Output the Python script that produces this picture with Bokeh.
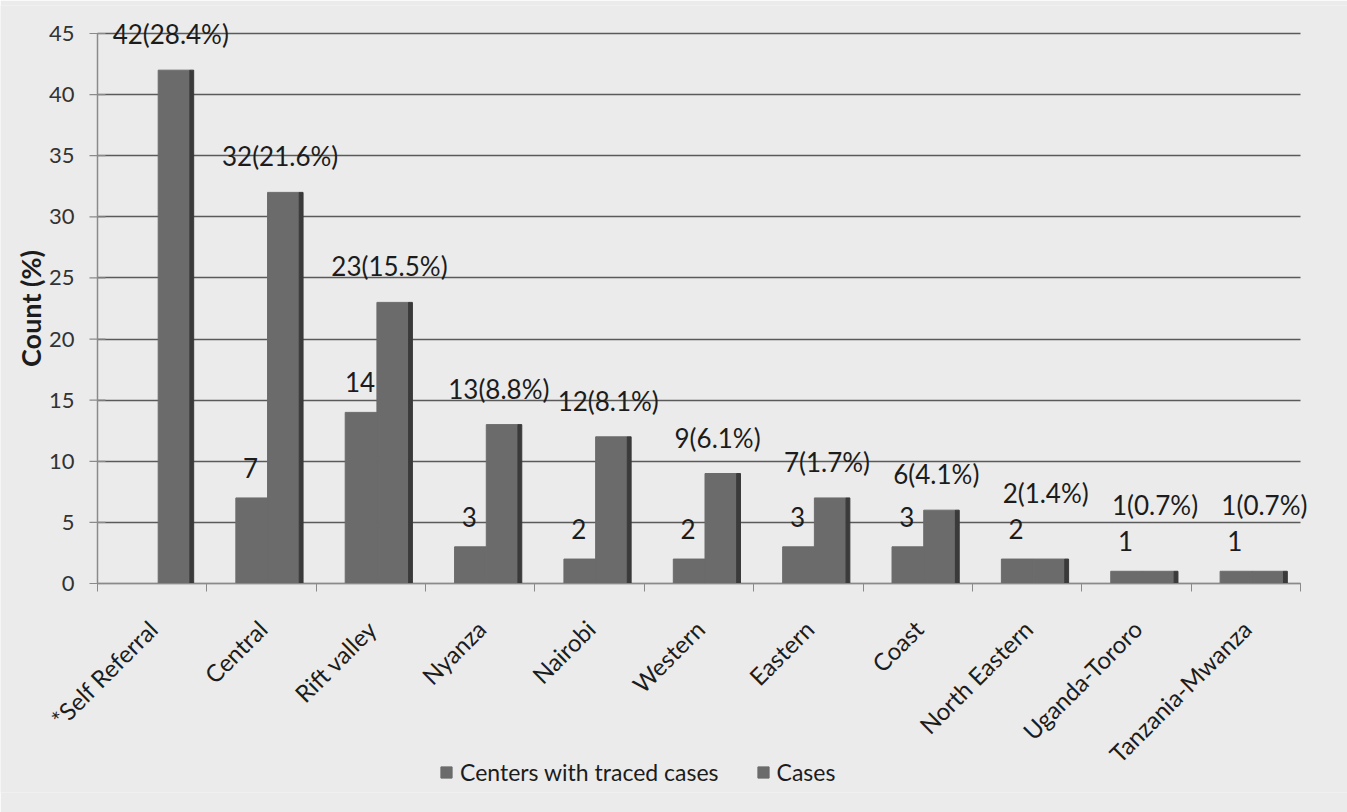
from math import pi
from bokeh.plotting import figure
from bokeh.models import (Range1d, LinearAxis, FixedTicker,
                          Legend, LegendItem, LabelSet, ColumnDataSource, Grid)
from bokeh.transform import dodge
from bokeh.core.properties import value
from bokeh.embed import file_html
from bokeh.resources import INLINE

categories = ["*Self Referral", "Central", "Rift valley", "Nyanza", "Nairobi", "Western",
              "Eastern", "Coast", "North Eastern", "Uganda-Tororo", "Tanzania-Mwanza"]
centers = [0, 7, 14, 3, 2, 2, 3, 3, 2, 1, 1]
cases = [42, 32, 23, 13, 12, 9, 7, 6, 2, 1, 1]
case_pct = ["28.4%", "21.6%", "15.5%", "8.8%", "8.1%", "6.1%", "1.7%", "4.1%", "1.4%", "0.7%", "0.7%"]
series_names = ["Centers with traced cases", "Cases"]
y_title = "Count (%)"
y_ticks = [0, 5, 10, 15, 20, 25, 30, 35, 40, 45]

FONT = "Lato"
BAR = "#6b6b6b"
SIDE = "#3a3a3a"
BG = "#ebebeb"
TXT = "#1c1c1c"
AXIS = "#8a8a8a"

n = len(categories)
xc = [i + 0.5 for i in range(n)]   # category centres, one unit per category

src = ColumnDataSource(dict(xc=xc, cat=categories, centers=centers, cases=cases))
src_x = ColumnDataSource(dict(x=xc, y=[0] * n, t=categories))
src_y = ColumnDataSource(dict(x=[0] * len(y_ticks), y=y_ticks, t=[str(v) for v in y_ticks]))
src_title = ColumnDataSource(dict(x=[0], y=[(y_ticks[0] + y_ticks[-1]) / 2], t=[y_title]))

# labels: centre-count labels only where there is a bar; case labels lifted
# above the centre label when the two bars are nearly equal
cl = [(x, v) for x, v in zip(xc, centers) if v > 0]
src_cl = ColumnDataSource(dict(x=[a for a, _ in cl], y=[b for _, b in cl],
                               t=[str(b) for _, b in cl]))
src_ca = ColumnDataSource(dict(
    x=xc,
    y=[max(c, ce + 2.5) for c, ce in zip(cases, centers)],
    t=[f"{v}({pc})" for v, pc in zip(cases, case_pct)],
))

# layout geometry (pixels): categories span 97..1300 px,
# y = 45 at 33 px and y = 0 at 583 px; the frame fills the page so texts are not clipped
W, H = 1347, 812
AX_LEFT, TOP, BOTTOM = 97, 5, 20
PX_PER_CAT = (1300 - AX_LEFT) / n
PX_PER_UNIT = (583 - 33) / 45.0
frame_bottom = H - BOTTOM
x_start = -AX_LEFT / PX_PER_CAT
x_end = (W - AX_LEFT) / PX_PER_CAT
y_start = -(frame_bottom - 583) / PX_PER_UNIT
y_end = 45 + (33 - TOP) / PX_PER_UNIT

p = figure(width=W, height=H,
           x_range=Range1d(x_start, x_end), y_range=Range1d(y_start, y_end),
           output_backend="svg", toolbar_location=None,
           x_axis_location=None, y_axis_location=None,
           min_border_left=0, min_border_right=0, min_border_top=TOP,
           min_border_bottom=BOTTOM)
p.background_fill_color = BG
p.border_fill_color = BG
p.outline_line_color = None
p.xgrid.grid_line_color = None
p.ygrid.grid_line_color = None

# horizontal gridlines
grid = Grid(dimension=1, ticker=FixedTicker(ticks=y_ticks),
            grid_line_color="#5a5a5a", grid_line_width=1.5)
# vertical axis line at x = 0
yline = Grid(dimension=0, ticker=FixedTicker(ticks=[0]), grid_line_color=AXIS, grid_line_width=1.5)
try:
    grid.cross_bounds = (0, n)
    yline.cross_bounds = (y_ticks[0], y_ticks[-1])
except Exception:
    pass
p.add_layout(grid)
p.add_layout(yline)

# y tick marks and labels, axis title
p.scatter(x="x", y="y", source=src_y, marker="dash", size=16, line_color=AXIS, line_width=1.2)
p.add_layout(LabelSet(x="x", y="y", text="t", source=src_y,
                      text_align="right", text_baseline="middle", x_offset=-23,
                      text_font=value(FONT), text_font_size=value("22px"), text_color="#333333"))
p.add_layout(LabelSet(x="x", y="y", text="t", source=src_title, angle=pi / 2,
                      text_align="center", text_baseline="middle", x_offset=-67,
                      text_font=value(FONT), text_font_size=value("27px"),
                      text_font_style=value("bold"), text_color=TXT))

# x axis line at y = 0 with tick marks at category boundaries
xax = LinearAxis(ticker=FixedTicker(ticks=[], minor_ticks=list(range(n + 1))),
                 fixed_location=0, bounds=(0, n),
                 major_tick_line_color=None, major_tick_out=0, major_tick_in=0,
                 minor_tick_line_color=AXIS, minor_tick_out=8, minor_tick_in=0,
                 axis_line_color=AXIS, major_label_standoff=0)
p.add_layout(xax, "below")

r1 = p.vbar(x=dodge("xc", -0.09), top="centers", width=0.29,
            source=src, fill_color=BAR, line_color=BAR)
r2 = p.vbar(x=dodge("xc", 0.2), top="cases", width=0.29,
            source=src, fill_color=BAR, line_color=BAR)
p.vbar(x=dodge("xc", 0.362), top="cases", width=0.035,
       source=src, fill_color=SIDE, line_color=SIDE)

p.add_layout(LabelSet(x=dodge("x", -0.1), y="y", text="t",
                      source=src_cl, text_align="center", text_baseline="bottom", y_offset=20,
                      text_font=value(FONT), text_font_size=value("26px"), text_color=TXT))
p.add_layout(LabelSet(x=dodge("x", 0.17), y="y", text="t",
                      source=src_ca, text_align="center", text_baseline="bottom", y_offset=20,
                      text_font=value(FONT), text_font_size=value("26px"), text_color=TXT))

# category names, rotated
p.add_layout(LabelSet(x="x", y="y", text="t", source=src_x, angle=pi / 4,
                      text_align="right", text_baseline="middle", x_offset=1, y_offset=-41,
                      text_font=value(FONT), text_font_size=value("24px"), text_color=TXT))

legend = Legend(items=[LegendItem(label=series_names[0], renderers=[r1]),
                       LegendItem(label=series_names[1], renderers=[r2])],
                orientation="horizontal", location=(439, frame_bottom - 775 - 11),
                background_fill_alpha=0, border_line_color=None,
                label_text_font=FONT, label_text_font_size="23px", label_text_color=TXT,
                glyph_width=14, glyph_height=14, label_standoff=7, spacing=37,
                padding=0, margin=0, label_height=22)
p.add_layout(legend, "center")

open("out.html", "w").write(file_html(p, INLINE))
